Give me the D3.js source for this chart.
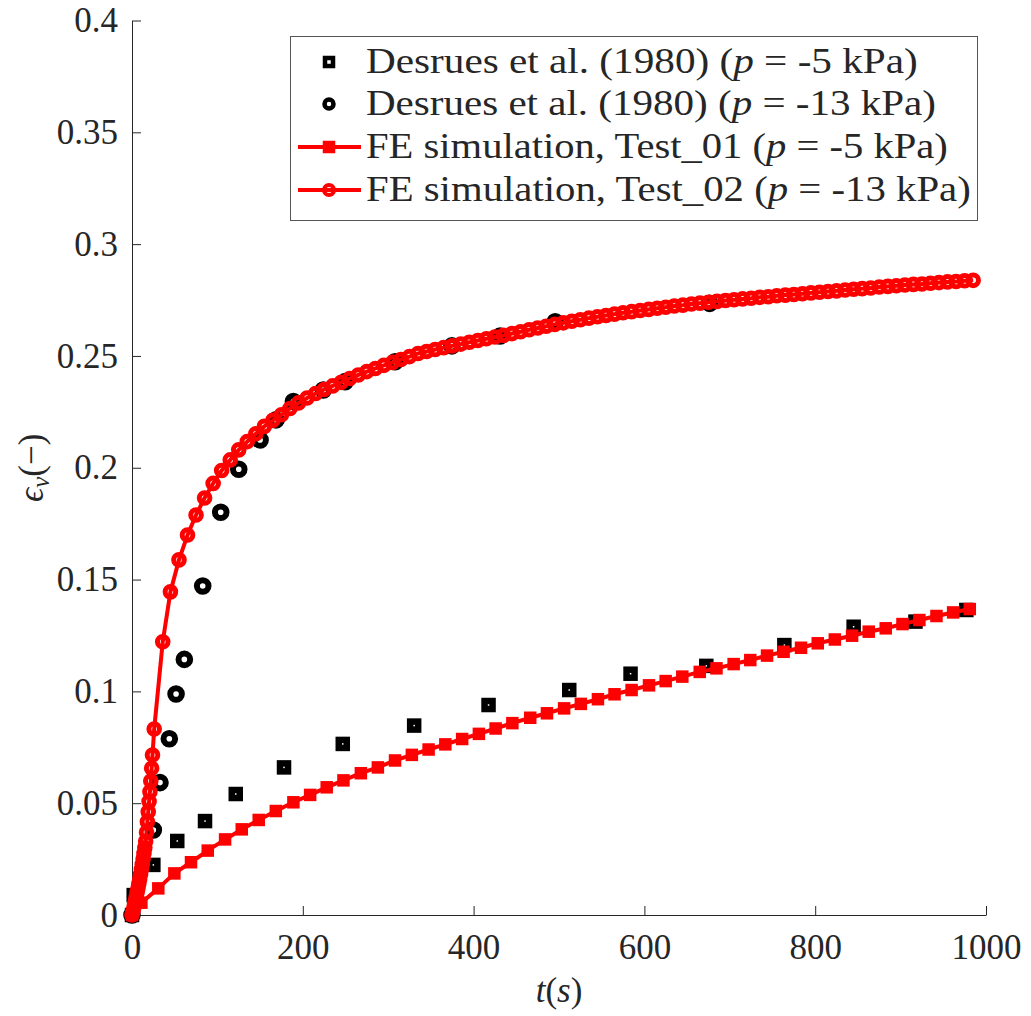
<!DOCTYPE html>
<html lang="en">
<head>
<meta charset="UTF-8">
<title>Volumetric strain vs time</title>
<script src="https://d3js.org/d3.v7.min.js"></script>
<style>
  body { margin: 0; background: #fff; }
  svg { display: block; }
  svg text.lab { font-family: "Liberation Serif", "Times New Roman", Times, "DejaVu Serif", "Noto Serif", serif; fill: #262626; }
</style>
</head>
<body>
<svg id="chart" width="1031" height="1016"></svg>
<script>
// axis ticks
const xTicks = [0, 200, 400, 600, 800, 1000];
const xTickLabels = ["0", "200", "400", "600", "800", "1000"];
const yTicks = [0, 0.05, 0.1, 0.15, 0.2, 0.25, 0.3, 0.35, 0.4];
const yTickLabels = ["0", "0.05", "0.1", "0.15", "0.2", "0.25", "0.3", "0.35", "0.4"];

// Desrues et al. (1980), p = -5 kPa
const tDesrues05 = [0, 2, 25, 53, 85.5, 121.5, 178, 246.8, 330.4, 417.5, 512, 583.8, 672.5, 763.9, 845, 917.4, 977];
const epsDesrues05 = [0, 0.0089, 0.0224, 0.0331, 0.042, 0.0541, 0.066, 0.0765, 0.0847, 0.0939, 0.1006, 0.1079, 0.1114, 0.1207, 0.1289, 0.1312, 0.1364];

// Desrues et al. (1980), p = -13 kPa
const tDesrues13 = [0, 25, 32.8, 43.7, 51.6, 61.3, 82.8, 103.9, 125, 150, 168.7, 189, 224, 249.6, 308, 374.6, 431, 495.6, 676.4];
const epsDesrues13 = [0, 0.038, 0.0592, 0.0788, 0.0988, 0.1143, 0.1471, 0.1801, 0.1993, 0.2124, 0.2214, 0.2296, 0.2348, 0.2385, 0.2474, 0.2545, 0.2589, 0.2653, 0.2735];

// FE simulation, Test_01
const tTest01 = [0, 11, 30.8, 49.6, 69.1, 88.7, 109, 128.5, 148.4, 168.4,
  189, 208.6, 228, 247.6, 268, 287.9, 308, 327.7, 347.3, 366.9,
  386.6, 406.2, 425.8, 445.4, 466.3, 485.9, 506, 525.6, 545.6, 565,
  585, 605.4, 624.9, 644.4, 664.8, 684.4, 704.5, 724, 743.6, 763,
  783.4, 803, 823, 843.2, 862.7, 882.6, 902.2, 922, 942, 961.5, 981];
const epsTest01 = [0, 0.0055, 0.0119, 0.0186, 0.0236, 0.0288, 0.0338, 0.0383, 0.0425, 0.0465,
  0.0504, 0.0537, 0.0571, 0.0602, 0.0634, 0.066, 0.0691, 0.0716, 0.074, 0.0763,
  0.0787, 0.081, 0.0834, 0.0858, 0.0882, 0.0902, 0.0924, 0.0944, 0.0965, 0.0987,
  0.1006, 0.1027, 0.1046, 0.1066, 0.1087, 0.1103, 0.1122, 0.114, 0.116, 0.1177,
  0.1195, 0.1215, 0.1232, 0.1249, 0.1267, 0.1282, 0.1301, 0.1319, 0.1337, 0.1353, 0.1368];

// FE simulation, Test_02
const tTest02 = [0, 1, 2, 3, 4, 5, 6, 7, 8, 9, 10, 11, 12, 13, 14, 15, 16, 17, 18, 19, 20, 21, 22, 23, 24, 26, 36,
  45, 55, 65, 75, 85, 95, 105, 115, 125, 135, 145, 155, 165, 175, 185, 195, 205, 215, 225, 235,
  245, 255, 265, 275, 285, 295, 305, 315, 325, 335, 345, 355, 365, 375, 385, 395, 405, 415, 425, 435,
  445, 455, 465, 475, 485, 495, 505, 515, 525, 535, 545, 555, 565, 575, 585, 595, 605, 615, 625, 635,
  645, 655, 665, 675, 685, 695, 705, 715, 725, 735, 745, 755, 765, 775, 785, 795, 805, 815, 825, 835,
  845, 855, 865, 875, 885, 895, 905, 915, 925, 935, 945, 955, 965, 975, 985];
const epsTest02 = [0, 0.0015, 0.003, 0.0047, 0.0064, 0.0082, 0.0101, 0.012, 0.014, 0.016, 0.0181, 0.0203, 0.0226,
  0.025, 0.0275, 0.0301, 0.033, 0.037, 0.0417, 0.0462, 0.0507, 0.0551, 0.0599, 0.0656, 0.0715, 0.0832, 0.1222,
  0.1445, 0.1588, 0.1699, 0.1789, 0.1865, 0.193, 0.1988, 0.2035, 0.208, 0.2117, 0.2152, 0.2185, 0.2212, 0.2237,
  0.2265, 0.229, 0.2312, 0.2332, 0.235, 0.2366, 0.2382, 0.2399, 0.2415, 0.243, 0.2444, 0.2458, 0.2471, 0.2484,
  0.2497, 0.2511, 0.252, 0.2529, 0.2537, 0.2545, 0.2553, 0.2561, 0.2569, 0.2577, 0.2585, 0.2592, 0.26, 0.2608,
  0.2617, 0.2625, 0.2633, 0.2641, 0.2648, 0.2655, 0.2662, 0.2669, 0.2675, 0.2681, 0.2687, 0.2693, 0.2698, 0.2703,
  0.2708, 0.2713, 0.2718, 0.2723, 0.2727, 0.2732, 0.2736, 0.274, 0.2744, 0.2748, 0.2751, 0.2755, 0.2758, 0.2762,
  0.2765, 0.2769, 0.2772, 0.2775, 0.2778, 0.2782, 0.2785, 0.2788, 0.2791, 0.2795, 0.2798, 0.2801, 0.2804, 0.2808,
  0.2811, 0.2814, 0.2817, 0.282, 0.2822, 0.2825, 0.2828, 0.2831, 0.2833, 0.2836, 0.2838];

// legend text: [before italic p, p, after]
const legendLabels = [
  ["Desrues et al. (1980) (", "p", " = -5 kPa)"],
  ["Desrues et al. (1980) (", "p", " = -13 kPa)"],
  ["FE simulation, Test_01 (", "p", " = -5 kPa)"],
  ["FE simulation, Test_02 (", "p", " = -13 kPa)"]
];
const legendWidths = [552, 570, 582, 605];

const serif = '"Liberation Serif", "Times New Roman", Times, "DejaVu Serif", "Noto Serif", serif';
const svg = d3.select("#chart");
const x = d3.scaleLinear().domain([0, 1000]).range([132, 986]);
const y = d3.scaleLinear().domain([0, 0.4]).range([915, 20.5]);
const axisColor = "#262626";

// axes (drawn under the data, like matlab)
const gx = svg.append("g")
  .attr("transform", "translate(0," + y(0) + ")")
  .call(d3.axisBottom(x).tickValues(xTicks).tickFormat((d, i) => xTickLabels[i])
    .tickSizeInner(-9).tickSizeOuter(0).tickPadding(19));
const gy = svg.append("g")
  .attr("transform", "translate(" + x(0) + ",0)")
  .call(d3.axisLeft(y).tickValues(yTicks).tickFormat((d, i) => yTickLabels[i])
    .tickSizeInner(-9).tickSizeOuter(0).tickPadding(14));
[gx, gy].forEach(g => {
  g.attr("font-family", serif).attr("font-size", 35);
  g.select(".domain").attr("stroke", axisColor);
  g.selectAll(".tick line").attr("stroke", axisColor);
  g.selectAll(".tick text").attr("class", "lab").attr("fill", axisColor)
    .attr("font-family", serif).attr("font-size", 35);
});

// axis labels
const xl = svg.append("text").attr("class", "lab")
  .attr("font-family", serif).attr("font-size", 35)
  .attr("x", (x(0) + x(1000)) / 2).attr("y", 1002)
  .attr("text-anchor", "middle");
xl.append("tspan").attr("font-style", "italic").text("t");
xl.append("tspan").text("(");
xl.append("tspan").attr("font-style", "italic").text("s");
xl.append("tspan").text(")");

const yl = svg.append("text").attr("class", "lab")
  .attr("font-family", serif).attr("font-size", 35)
  .attr("transform", "translate(43," + ((y(0) + y(0.4)) / 2) + ") rotate(-90)")
  .attr("text-anchor", "middle");
yl.append("tspan").attr("font-style", "italic").text("\u03F5");
yl.append("tspan").attr("font-style", "italic").attr("dy", 6).attr("font-size", 25).text("v");
yl.append("tspan").attr("dy", -6).text("(\u2212)");

// marker helpers
function squares(g, pts, side, sw, stroke, fill) {
  g.selectAll("rect").data(pts).join("rect")
    .attr("x", d => x(d[0]) - side / 2).attr("y", d => y(d[1]) - side / 2)
    .attr("width", side).attr("height", side)
    .attr("fill", fill).attr("stroke", stroke).attr("stroke-width", sw);
}
function rings(g, pts, r, sw, stroke) {
  g.selectAll("circle").data(pts).join("circle")
    .attr("cx", d => x(d[0])).attr("cy", d => y(d[1])).attr("r", r)
    .attr("fill", "none").attr("stroke", stroke).attr("stroke-width", sw);
}
const line = d3.line().x(d => x(d[0])).y(d => y(d[1]));

const d05 = d3.zip(tDesrues05, epsDesrues05);
const d13 = d3.zip(tDesrues13, epsDesrues13);
const fe1 = d3.zip(tTest01, epsTest01);
const fe2 = d3.zip(tTest02, epsTest02);

// experimental data
squares(svg.append("g"), d05, 8, 6.5, "#000", "none");
rings(svg.append("g"), d13, 5.8, 6, "#000");

// FE Test_01
svg.append("path").datum(fe1).attr("d", line)
  .attr("fill", "none").attr("stroke", "#ff0000").attr("stroke-width", 4).attr("stroke-linejoin", "round");
squares(svg.append("g"), fe1, 9, 3.5, "#ff0000", "#ff0000");

// FE Test_02
svg.append("path").datum(fe2).attr("d", line)
  .attr("fill", "none").attr("stroke", "#ff0000").attr("stroke-width", 4).attr("stroke-linejoin", "round");
rings(svg.append("g"), fe2, 5.3, 5, "#ff0000");

// legend
const leg = svg.append("g");
leg.append("rect").attr("x", 290.5).attr("y", 36.5).attr("width", 687).attr("height", 184)
  .attr("fill", "#fff").attr("stroke", "#555").attr("stroke-width", 1);
const rowY = [62, 104, 147, 190];
const mx = 329;

leg.append("rect").attr("x", mx - 4).attr("y", rowY[0] - 4).attr("width", 8).attr("height", 8)
  .attr("fill", "none").attr("stroke", "#000").attr("stroke-width", 4.5);
leg.append("circle").attr("cx", mx).attr("cy", rowY[1]).attr("r", 4.5)
  .attr("fill", "none").attr("stroke", "#000").attr("stroke-width", 4.5);
[2, 3].forEach(i => {
  leg.append("line").attr("x1", 298).attr("x2", 361).attr("y1", rowY[i]).attr("y2", rowY[i])
    .attr("stroke", "#ff0000").attr("stroke-width", 4);
});
leg.append("rect").attr("x", mx - 5).attr("y", rowY[2] - 5).attr("width", 10).attr("height", 10)
  .attr("fill", "#ff0000").attr("stroke", "#ff0000").attr("stroke-width", 2.5);
leg.append("circle").attr("cx", mx).attr("cy", rowY[3]).attr("r", 5)
  .attr("fill", "none").attr("stroke", "#ff0000").attr("stroke-width", 4);

legendLabels.forEach((parts, i) => {
  const t = leg.append("text").attr("class", "lab")
    .attr("font-family", serif).attr("font-size", 35)
    .attr("fill", "#000").attr("x", 0).attr("y", 0);
  t.append("tspan").text(parts[0]);
  t.append("tspan").attr("font-style", "italic").text(parts[1]);
  t.append("tspan").text(parts[2]);
  const w = t.node().getComputedTextLength();
  const sx = legendWidths[i] / w;
  t.attr("transform", "translate(366," + (rowY[i] + 11) + ") scale(" + sx + ",1)");
});
</script>
</body>
</html>
